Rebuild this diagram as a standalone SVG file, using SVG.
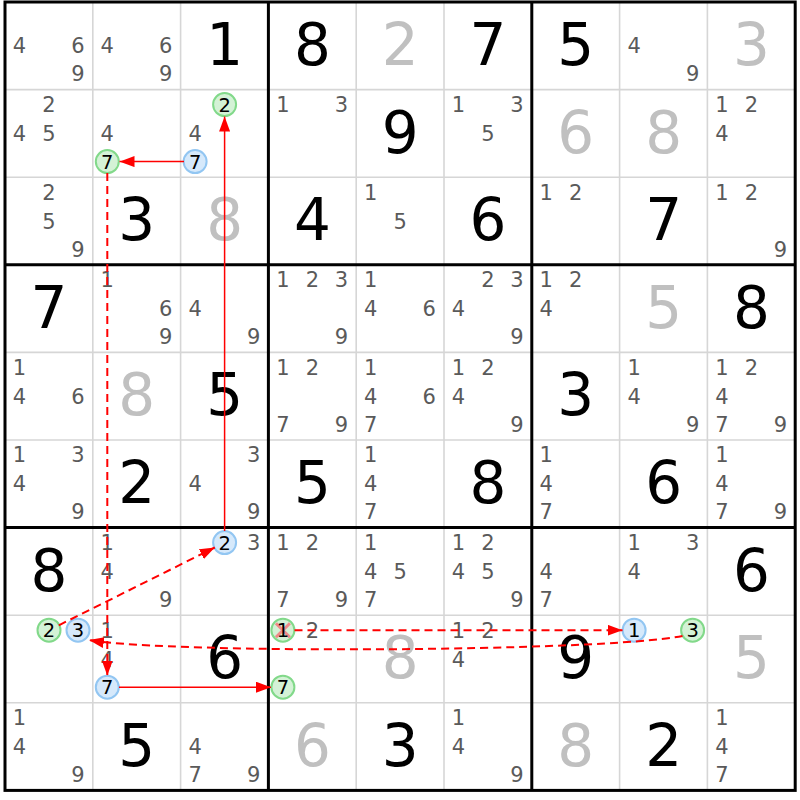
<svg xmlns="http://www.w3.org/2000/svg" width="800" height="800" viewBox="0 0 800 800">
<style>
text{font-family:"DejaVu Sans","Liberation Sans",sans-serif;text-anchor:middle}
.c{font-size:21px;fill:#5a5a5a}
.g{font-size:58px;fill:#000}
.s{font-size:58px;fill:#c0c0c0}
.k{font-size:19.5px;fill:#000}
.thin{stroke:#d6d6d6;stroke-width:1.6}
.thick{stroke:#000;stroke-width:3}
.gr{fill:#d4f2d6;stroke:#82d98a;stroke-width:2}
.bl{fill:#d6e9fb;stroke:#92c6f2;stroke-width:2}
.x{stroke:#f08a8a;stroke-width:3}
.sol{stroke:#f00;stroke-width:1.5;fill:none}
.dsh{stroke:#f00;stroke-width:2;fill:none;stroke-dasharray:8 5}
</style>
<defs>
<marker id="ah" markerUnits="userSpaceOnUse" markerWidth="15" markerHeight="11" refX="15" refY="5.5" orient="auto"><path d="M0,0 L15,5.5 L0,11 z" fill="#f00"/></marker>
</defs>
<rect x="0" y="0" width="800" height="800" fill="#fff"/>
<g id="grid">
<path class="thin" d="M92.8,2V790.4M180.6,2V790.4M356.2,2V790.4M444,2V790.4M619.6,2V790.4M707.4,2V790.4M5,89.6H795.2M5,177.2H795.2M5,352.4H795.2M5,440H795.2M5,615.2H795.2M5,702.8H795.2"/>
<path class="thick" d="M268.4,2V790.4M531.8,2V790.4M5,264.8H795.2M5,527.6H795.2"/>
<rect class="thick" x="5" y="2" width="790.2" height="788.4" fill="none"/>
</g>
<g id="cells">
<g id="r0c0"><text class="c" x="19.5" y="53.3">4</text><text class="c" x="78" y="53.3">6</text><text class="c" x="78" y="81.3">9</text></g>
<g id="r0c1"><text class="c" x="107.3" y="53.3">4</text><text class="c" x="165.8" y="53.3">6</text><text class="c" x="165.8" y="81.3">9</text></g>
<g id="r0c2"><text class="g" x="224.6" y="65">1</text></g>
<g id="r0c3"><text class="g" x="312.4" y="65">8</text></g>
<g id="r0c4"><text class="s" x="400.2" y="65">2</text></g>
<g id="r0c5"><text class="g" x="488" y="65">7</text></g>
<g id="r0c6"><text class="g" x="575.8" y="65">5</text></g>
<g id="r0c7"><text class="c" x="634.1" y="53.3">4</text><text class="c" x="692.6" y="81.3">9</text></g>
<g id="r0c8"><text class="s" x="751.4" y="65">3</text></g>

<g id="r1c0"><text class="c" x="49" y="111.9">2</text><text class="c" x="19.5" y="140.9">4</text><text class="c" x="49" y="140.9">5</text></g>
<g id="r1c1"><text class="c" x="107.3" y="140.9">4</text><circle class="gr" cx="107.3" cy="161.6" r="11.5"/><text class="k" x="107.3" y="168.5">7</text></g>
<g id="r1c2"><circle class="gr" cx="224.6" cy="104.6" r="11.5"/><text class="k" x="224.6" y="111.5">2</text><text class="c" x="195.1" y="140.9">4</text><circle class="bl" cx="195.1" cy="161.6" r="11.5"/><text class="k" x="195.1" y="168.5">7</text></g>
<g id="r1c3"><text class="c" x="282.9" y="111.9">1</text><text class="c" x="341.4" y="111.9">3</text></g>
<g id="r1c4"><text class="g" x="400.2" y="152.6">9</text></g>
<g id="r1c5"><text class="c" x="458.5" y="111.9">1</text><text class="c" x="517" y="111.9">3</text><text class="c" x="488" y="140.9">5</text></g>
<g id="r1c6"><text class="s" x="575.8" y="152.6">6</text></g>
<g id="r1c7"><text class="s" x="663.6" y="152.6">8</text></g>
<g id="r1c8"><text class="c" x="721.9" y="111.9">1</text><text class="c" x="751.4" y="111.9">2</text><text class="c" x="721.9" y="140.9">4</text></g>

<g id="r2c0"><text class="c" x="49" y="199.5">2</text><text class="c" x="49" y="228.5">5</text><text class="c" x="78" y="256.5">9</text></g>
<g id="r2c1"><text class="g" x="136.8" y="240.2">3</text></g>
<g id="r2c2"><text class="s" x="224.6" y="240.2">8</text></g>
<g id="r2c3"><text class="g" x="312.4" y="240.2">4</text></g>
<g id="r2c4"><text class="c" x="370.7" y="199.5">1</text><text class="c" x="400.2" y="228.5">5</text></g>
<g id="r2c5"><text class="g" x="488" y="240.2">6</text></g>
<g id="r2c6"><text class="c" x="546.3" y="199.5">1</text><text class="c" x="575.8" y="199.5">2</text></g>
<g id="r2c7"><text class="g" x="663.6" y="240.2">7</text></g>
<g id="r2c8"><text class="c" x="721.9" y="199.5">1</text><text class="c" x="751.4" y="199.5">2</text><text class="c" x="780.4" y="256.5">9</text></g>

<g id="r3c0"><text class="g" x="49" y="327.8">7</text></g>
<g id="r3c1"><text class="c" x="107.3" y="287.1">1</text><text class="c" x="165.8" y="316.1">6</text><text class="c" x="165.8" y="344.1">9</text></g>
<g id="r3c2"><text class="c" x="195.1" y="316.1">4</text><text class="c" x="253.6" y="344.1">9</text></g>
<g id="r3c3"><text class="c" x="282.9" y="287.1">1</text><text class="c" x="312.4" y="287.1">2</text><text class="c" x="341.4" y="287.1">3</text><text class="c" x="341.4" y="344.1">9</text></g>
<g id="r3c4"><text class="c" x="370.7" y="287.1">1</text><text class="c" x="370.7" y="316.1">4</text><text class="c" x="429.2" y="316.1">6</text></g>
<g id="r3c5"><text class="c" x="488" y="287.1">2</text><text class="c" x="517" y="287.1">3</text><text class="c" x="458.5" y="316.1">4</text><text class="c" x="517" y="344.1">9</text></g>
<g id="r3c6"><text class="c" x="546.3" y="287.1">1</text><text class="c" x="575.8" y="287.1">2</text><text class="c" x="546.3" y="316.1">4</text></g>
<g id="r3c7"><text class="s" x="663.6" y="327.8">5</text></g>
<g id="r3c8"><text class="g" x="751.4" y="327.8">8</text></g>

<g id="r4c0"><text class="c" x="19.5" y="374.7">1</text><text class="c" x="19.5" y="403.7">4</text><text class="c" x="78" y="403.7">6</text></g>
<g id="r4c1"><text class="s" x="136.8" y="415.4">8</text></g>
<g id="r4c2"><text class="g" x="224.6" y="415.4">5</text></g>
<g id="r4c3"><text class="c" x="282.9" y="374.7">1</text><text class="c" x="312.4" y="374.7">2</text><text class="c" x="282.9" y="431.7">7</text><text class="c" x="341.4" y="431.7">9</text></g>
<g id="r4c4"><text class="c" x="370.7" y="374.7">1</text><text class="c" x="370.7" y="403.7">4</text><text class="c" x="429.2" y="403.7">6</text><text class="c" x="370.7" y="431.7">7</text></g>
<g id="r4c5"><text class="c" x="458.5" y="374.7">1</text><text class="c" x="488" y="374.7">2</text><text class="c" x="458.5" y="403.7">4</text><text class="c" x="517" y="431.7">9</text></g>
<g id="r4c6"><text class="g" x="575.8" y="415.4">3</text></g>
<g id="r4c7"><text class="c" x="634.1" y="374.7">1</text><text class="c" x="634.1" y="403.7">4</text><text class="c" x="692.6" y="431.7">9</text></g>
<g id="r4c8"><text class="c" x="721.9" y="374.7">1</text><text class="c" x="751.4" y="374.7">2</text><text class="c" x="721.9" y="403.7">4</text><text class="c" x="721.9" y="431.7">7</text><text class="c" x="780.4" y="431.7">9</text></g>

<g id="r5c0"><text class="c" x="19.5" y="462.3">1</text><text class="c" x="78" y="462.3">3</text><text class="c" x="19.5" y="491.3">4</text><text class="c" x="78" y="519.3">9</text></g>
<g id="r5c1"><text class="g" x="136.8" y="503">2</text></g>
<g id="r5c2"><text class="c" x="253.6" y="462.3">3</text><text class="c" x="195.1" y="491.3">4</text><text class="c" x="253.6" y="519.3">9</text></g>
<g id="r5c3"><text class="g" x="312.4" y="503">5</text></g>
<g id="r5c4"><text class="c" x="370.7" y="462.3">1</text><text class="c" x="370.7" y="491.3">4</text><text class="c" x="370.7" y="519.3">7</text></g>
<g id="r5c5"><text class="g" x="488" y="503">8</text></g>
<g id="r5c6"><text class="c" x="546.3" y="462.3">1</text><text class="c" x="546.3" y="491.3">4</text><text class="c" x="546.3" y="519.3">7</text></g>
<g id="r5c7"><text class="g" x="663.6" y="503">6</text></g>
<g id="r5c8"><text class="c" x="721.9" y="462.3">1</text><text class="c" x="721.9" y="491.3">4</text><text class="c" x="721.9" y="519.3">7</text><text class="c" x="780.4" y="519.3">9</text></g>

<g id="r6c0"><text class="g" x="49" y="590.6">8</text></g>
<g id="r6c1"><text class="c" x="107.3" y="549.9">1</text><text class="c" x="107.3" y="578.9">4</text><text class="c" x="165.8" y="606.9">9</text></g>
<g id="r6c2"><circle class="bl" cx="224.6" cy="542.6" r="11.5"/><text class="k" x="224.6" y="549.5">2</text><text class="c" x="253.6" y="549.9">3</text></g>
<g id="r6c3"><text class="c" x="282.9" y="549.9">1</text><text class="c" x="312.4" y="549.9">2</text><text class="c" x="282.9" y="606.9">7</text><text class="c" x="341.4" y="606.9">9</text></g>
<g id="r6c4"><text class="c" x="370.7" y="549.9">1</text><text class="c" x="370.7" y="578.9">4</text><text class="c" x="400.2" y="578.9">5</text><text class="c" x="370.7" y="606.9">7</text></g>
<g id="r6c5"><text class="c" x="458.5" y="549.9">1</text><text class="c" x="488" y="549.9">2</text><text class="c" x="458.5" y="578.9">4</text><text class="c" x="488" y="578.9">5</text><text class="c" x="517" y="606.9">9</text></g>
<g id="r6c6"><text class="c" x="546.3" y="578.9">4</text><text class="c" x="546.3" y="606.9">7</text></g>
<g id="r6c7"><text class="c" x="634.1" y="549.9">1</text><text class="c" x="692.6" y="549.9">3</text><text class="c" x="634.1" y="578.9">4</text></g>
<g id="r6c8"><text class="g" x="751.4" y="590.6">6</text></g>

<g id="r7c0"><circle class="gr" cx="49" cy="630.2" r="11.5"/><text class="k" x="49" y="637.1">2</text><circle class="bl" cx="78" cy="630.2" r="11.5"/><text class="k" x="78" y="637.1">3</text></g>
<g id="r7c1"><text class="c" x="107.3" y="637.5">1</text><text class="c" x="107.3" y="666.5">4</text><circle class="bl" cx="107.3" cy="687.2" r="11.5"/><text class="k" x="107.3" y="694.1">7</text></g>
<g id="r7c2"><text class="g" x="224.6" y="678.2">6</text></g>
<g id="r7c3"><circle class="gr" cx="282.9" cy="630.2" r="11.5"/><path class="x" d="M275.9,623.2L289.9,637.2M289.9,623.2L275.9,637.2"/><text class="k" x="282.9" y="637.1">1</text><text class="c" x="312.4" y="637.5">2</text><circle class="gr" cx="282.9" cy="687.2" r="11.5"/><text class="k" x="282.9" y="694.1">7</text></g>
<g id="r7c4"><text class="s" x="400.2" y="678.2">8</text></g>
<g id="r7c5"><text class="c" x="458.5" y="637.5">1</text><text class="c" x="488" y="637.5">2</text><text class="c" x="458.5" y="666.5">4</text></g>
<g id="r7c6"><text class="g" x="575.8" y="678.2">9</text></g>
<g id="r7c7"><circle class="bl" cx="634.1" cy="630.2" r="11.5"/><text class="k" x="634.1" y="637.1">1</text><circle class="gr" cx="692.6" cy="630.2" r="11.5"/><text class="k" x="692.6" y="637.1">3</text></g>
<g id="r7c8"><text class="s" x="751.4" y="678.2">5</text></g>

<g id="r8c0"><text class="c" x="19.5" y="725.1">1</text><text class="c" x="19.5" y="754.1">4</text><text class="c" x="78" y="782.1">9</text></g>
<g id="r8c1"><text class="g" x="136.8" y="765.8">5</text></g>
<g id="r8c2"><text class="c" x="195.1" y="754.1">4</text><text class="c" x="195.1" y="782.1">7</text><text class="c" x="253.6" y="782.1">9</text></g>
<g id="r8c3"><text class="s" x="312.4" y="765.8">6</text></g>
<g id="r8c4"><text class="g" x="400.2" y="765.8">3</text></g>
<g id="r8c5"><text class="c" x="458.5" y="725.1">1</text><text class="c" x="458.5" y="754.1">4</text><text class="c" x="517" y="782.1">9</text></g>
<g id="r8c6"><text class="s" x="575.8" y="765.8">8</text></g>
<g id="r8c7"><text class="g" x="663.6" y="765.8">2</text></g>
<g id="r8c8"><text class="c" x="721.9" y="725.1">1</text><text class="c" x="721.9" y="754.1">4</text><text class="c" x="721.9" y="782.1">7</text></g>
</g>
<g id="connectors">
<path class="sol" d="M184,161.6H119.5" marker-end="url(#ah)"/>
<path class="sol" d="M224.6,531V116.5" marker-end="url(#ah)"/>
<path class="dsh" d="M107.3,173V675.5" marker-end="url(#ah)"/>
<path class="sol" d="M119,687.2H271" marker-end="url(#ah)"/>
<path class="dsh" d="M58.8,625.3L214.8,547.5" marker-end="url(#ah)"/>
<path class="dsh" d="M294.5,630.2H622.5" marker-end="url(#ah)"/>
<path class="dsh" d="M682.5,636C600,652 170,654 89,640" marker-end="url(#ah)"/>
</g>
</svg>
